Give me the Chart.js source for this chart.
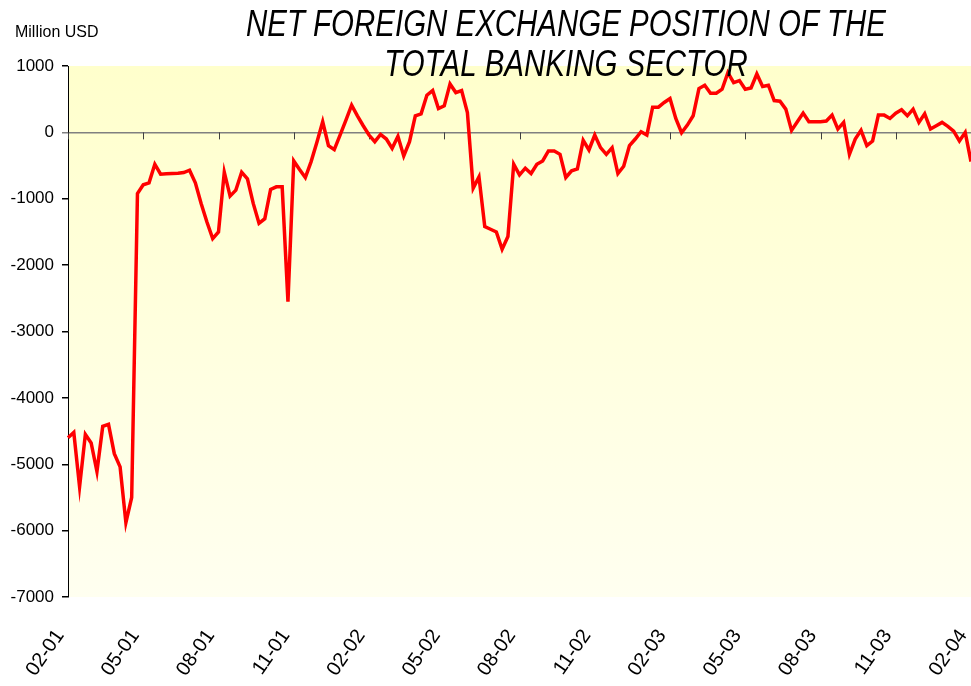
<!DOCTYPE html>
<html>
<head>
<meta charset="utf-8">
<script src="https://cdn.jsdelivr.net/npm/chart.js@4.4.1/dist/chart.umd.min.js"></script>
<style>
  html, body { margin: 0; padding: 0; background: #fff; }
  #wrap { width: 971px; height: 686px; }
</style>
</head>
<body>
<div id="wrap"><canvas id="graficoPosicao"></canvas></div>
<script>
// Dados: posição semanal (milhões USD), fev/2001 a fev/2004
const tickLabels = ["02-01", "05-01", "08-01", "11-01", "02-02", "05-02", "08-02",
                    "11-02", "02-03", "05-03", "08-03", "11-03", "02-04"];

const position = [
  -4600, -4520, -5340, -4550, -4680, -5110, -4430, -4400, -4840, -5040,
  -5880, -5500, -920, -790, -760, -480, -630, -625, -620, -615,
  -605, -570, -760, -1070, -1350, -1600, -1500, -600, -960, -870,
  -600, -700, -1070, -1370, -1300, -860, -820, -820, -2550, -430,
  -560, -680, -440, -150, 160, -200, -260, -40, 180, 410,
  250, 100, -40, -140, -30, -100, -240, -60, -355, -140,
  250, 280, 560, 630, 360, 400, 730, 600, 630, 300,
  -840, -670, -1420, -1460, -1500, -1760, -1570, -480, -640, -540,
  -620, -480, -430, -280, -280, -330, -680, -580, -550, -120,
  -265, -40, -230, -330, -230, -620, -510, -200, -100, 10,
  -40, 380, 380, 450, 510, 210, -5, 110, 250, 660,
  710, 590, 590, 650, 900, 750, 780, 650, 670, 880,
  690, 710, 480, 470, 350, 30, 160, 290, 160, 160,
  160, 170, 260, 50, 150, -330, -100, 30, -200, -130,
  260, 260, 210, 290, 340, 250, 350, 150, 280, 50,
  100, 150, 90, 20, -130, 0, -440
];

// um rótulo a cada 13 semanas
const weeks = position.map((v, i) => (i % 13 === 0 ? tickLabels[i / 13] : ""));

const fonte = "'Liberation Sans', Arial, sans-serif";

// fundo amarelo em degradê na área do gráfico
const fundo = {
  id: "fundo",
  beforeDraw(chart) {
    const { ctx, chartArea: a } = chart;
    const g = ctx.createLinearGradient(0, a.top, 0, a.bottom);
    g.addColorStop(0, "#FFFFCC");
    g.addColorStop(1, "#FFFFF0");
    ctx.save();
    ctx.fillStyle = g;
    ctx.fillRect(a.left, a.top, a.right - a.left, a.bottom - a.top);
    ctx.restore();
  }
};

// marcas do eixo x sobre a linha do zero
const marcasZero = {
  id: "marcasZero",
  beforeDatasetsDraw(chart) {
    const { ctx, scales } = chart;
    const y0 = scales.y.getPixelForValue(0);
    ctx.save();
    ctx.strokeStyle = "#404040";
    ctx.lineWidth = 1;
    weeks.forEach((lab, i) => {
      if (!lab) return;
      const x = Math.round(scales.x.getPixelForValue(i)) + 0.5;
      ctx.beginPath();
      ctx.moveTo(x, y0);
      ctx.lineTo(x, y0 + 7);
      ctx.stroke();
    });
    ctx.restore();
  }
};

// título e unidade
const titulo = {
  id: "titulo",
  afterDraw(chart) {
    const ctx = chart.ctx;
    ctx.save();
    ctx.fillStyle = "#000";
    ctx.font = "17px " + fonte;
    ctx.textAlign = "left";
    ctx.textBaseline = "alphabetic";
    ctx.save();
    ctx.translate(15, 37);
    ctx.scale(0.94, 1);
    ctx.fillText("Million USD", 0, 0);
    ctx.restore();

    ctx.font = "italic 37px " + fonte;
    const l1 = "NET FOREIGN EXCHANGE POSITION OF THE";
    const l2 = "TOTAL BANKING SECTOR";
    const sx = 640 / ctx.measureText(l1).width;
    ctx.textAlign = "center";
    ctx.translate(566, 0);
    ctx.scale(sx, 1);
    ctx.fillText(l1, 0, 36);
    ctx.fillText(l2, 0, 76);
    ctx.restore();
  }
};

new Chart(document.getElementById("graficoPosicao"), {
  type: "line",
  data: {
    labels: weeks,
    datasets: [{
      data: position,
      borderColor: "#FF0000",
      borderWidth: 3.5,
      pointRadius: 0,
      tension: 0,
      fill: false
    }]
  },
  options: {
    responsive: true,
    maintainAspectRatio: false,
    animation: false,
    layout: { padding: { top: 66, left: 0, right: 0, bottom: 0 } },
    plugins: {
      legend: { display: false },
      tooltip: { enabled: false }
    },
    scales: {
      x: {
        grid: { display: false },
        border: { display: false },
        ticks: {
          autoSkip: false,
          maxRotation: 55,
          minRotation: 55,
          padding: 20,
          labelOffset: -8,
          color: "#000",
          font: { family: fonte, size: 20 },
          callback: (v, i) => (weeks[i] ? weeks[i] : null)
        },
        afterFit: s => { s.height = 89; s.paddingLeft = 0; s.paddingRight = 0; }
      },
      y: {
        min: -7000,
        max: 1000,
        ticks: {
          stepSize: 1000,
          padding: 8,
          color: "#000",
          font: { family: fonte, size: 17 },
          callback: v => String(v)
        },
        grid: {
          color: c => (c.tick && c.tick.value === 0 ? "#808080" : "rgba(0,0,0,0)"),
          tickColor: c => (c.tick && c.tick.value === 0 ? "#808080" : "#000"),
          tickLength: 6,
          lineWidth: 1.5
        },
        border: { display: true, color: "#000", width: 1 },
        afterFit: s => { s.width = 68; s.paddingTop = 0; s.paddingBottom = 0; }
      }
    }
  },
  plugins: [fundo, marcasZero, titulo]
});
</script>
</body>
</html>
